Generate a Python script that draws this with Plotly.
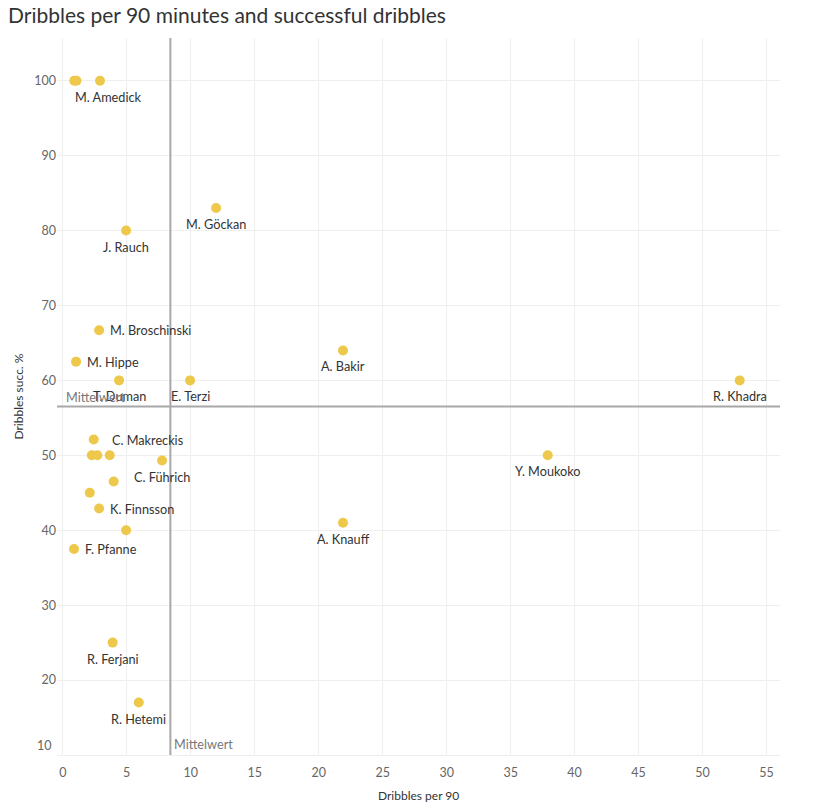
import plotly.graph_objects as go

# ---- data ----
players = ["", "", "M. Amedick", "M. Göckan", "J. Rauch", "M. Broschinski", "M. Hippe",
           "T. Duman", "E. Terzi", "A. Bakir", "R. Khadra", "C. Makreckis", "", "", "",
           "C. Führich", "", "", "K. Finnsson", "", "F. Pfanne", "Y. Moukoko", "A. Knauff",
           "R. Ferjani", "R. Hetemi"]
dribbles_per90 = [0.9, 1.07, 2.91, 11.98, 4.95, 2.84, 1.04, 4.4, 9.95, 21.9, 52.9, 2.42, 2.27,
                  2.70, 3.67, 7.76, 3.98, 2.11, 2.84, 4.95, 0.88, 37.9, 21.9, 3.9, 5.94]
succ_pct = [100, 100, 100, 83.0, 80.0, 66.7, 62.5, 60, 60, 64.0, 60, 52.1, 50, 50, 50, 49.3,
            46.5, 45.0, 42.9, 40.0, 37.5, 50, 41.0, 25.0, 17.0]
# label placement: "below" or "right"
label_pos = ["", "", "below", "below", "below", "right", "right", "below", "below", "below",
             "below", "right", "", "", "", "below", "", "", "right", "", "right", "below",
             "below", "below", "below"]
mean_x = 8.41
mean_y = 56.5
x_ticks = list(range(0, 60, 5))
y_ticks = list(range(20, 110, 10))

FONT = "Lato"
fig = go.Figure()
fig.add_trace(go.Scatter(
    x=dribbles_per90, y=succ_pct, mode="markers",
    marker=dict(size=10, color="#EEC84A", line=dict(width=0)),
    hoverinfo="skip", showlegend=False))

ann = []
for name, xv, yv, pos in zip(players, dribbles_per90, succ_pct, label_pos):
    if not name:
        continue
    if pos == "below":
        xs, ys, xa = 0, -16, "center"
        if name == "M. Amedick":
            xs = 8
    else:
        xs, ys, xa = 9, 0, "left"
        if name == "C. Makreckis":
            xs = 16
    ann.append(dict(x=xv, y=yv, xref="x", yref="y", text=name, showarrow=False,
                    xanchor=xa, yanchor="middle", xshift=xs, yshift=ys,
                    font=dict(family=FONT, size=12.7, color="#333333")))

# mean lines
fig.add_shape(type="line", xref="x", yref="paper", x0=mean_x, x1=mean_x, y0=0, y1=1,
              line=dict(color="#A8A8A8", width=2))
fig.add_shape(type="line", xref="paper", yref="y", x0=0, x1=1, y0=mean_y, y1=mean_y,
              line=dict(color="#A8A8A8", width=2))
ann.append(dict(x=0, y=mean_y, xref="paper", yref="y", text="Mittelwert", showarrow=False,
                xanchor="left", yanchor="bottom", xshift=7, yshift=0,
                font=dict(family=FONT, size=12.7, color="#777777")))
ann.append(dict(x=mean_x, y=0, xref="x", yref="paper", text="Mittelwert", showarrow=False,
                xanchor="left", yanchor="bottom", xshift=2, yshift=1,
                font=dict(family=FONT, size=12.7, color="#777777")))
# bottom "10" tick label (pushed up as in reference)
ann.append(dict(x=0, y=10, xref="paper", yref="y", text="10", showarrow=False,
                xanchor="right", yanchor="middle", xshift=-3, yshift=10,
                font=dict(family=FONT, size=12.5, color="#666666")))
# axis titles
ann.append(dict(x=0, y=0.5, xref="paper", yref="paper", text="Dribbles succ. %",
                showarrow=False, textangle=-90, xanchor="center", yanchor="middle",
                xshift=-39, font=dict(family=FONT, size=12, color="#333333")))
ann.append(dict(x=0.5, y=0, xref="paper", yref="paper", text="Dribbles per 90",
                showarrow=False, xanchor="center", yanchor="middle", yshift=-40,
                font=dict(family=FONT, size=12, color="#333333")))

fig.update_layout(
    width=822, height=800,
    margin=dict(l=49, r=50, t=30, b=53),
    paper_bgcolor="white", plot_bgcolor="white",
    title=dict(text="Dribbles per 90 minutes and successful dribbles", x=0.0, xanchor="left",
               y=1.0, yanchor="top", yref="container", pad=dict(t=0, l=0),
               font=dict(family=FONT, size=21, color="#333333")),
    annotations=ann,
    xaxis=dict(range=[-0.45, 56.05], tickvals=x_ticks, showgrid=True, gridcolor="#EFEFEF",
               gridwidth=1, zeroline=False, showline=True, linecolor="#EFEFEF",
               ticks="", ticklabelstandoff=6,
               tickfont=dict(family=FONT, size=12.5, color="#666666")),
    yaxis=dict(range=[10, 105.7], tickvals=y_ticks, showgrid=True, gridcolor="#EFEFEF",
               gridwidth=1, zeroline=False, showline=False, ticks="",
               tickfont=dict(family=FONT, size=12.5, color="#666666")),
)

fig.write_html("out.html")
